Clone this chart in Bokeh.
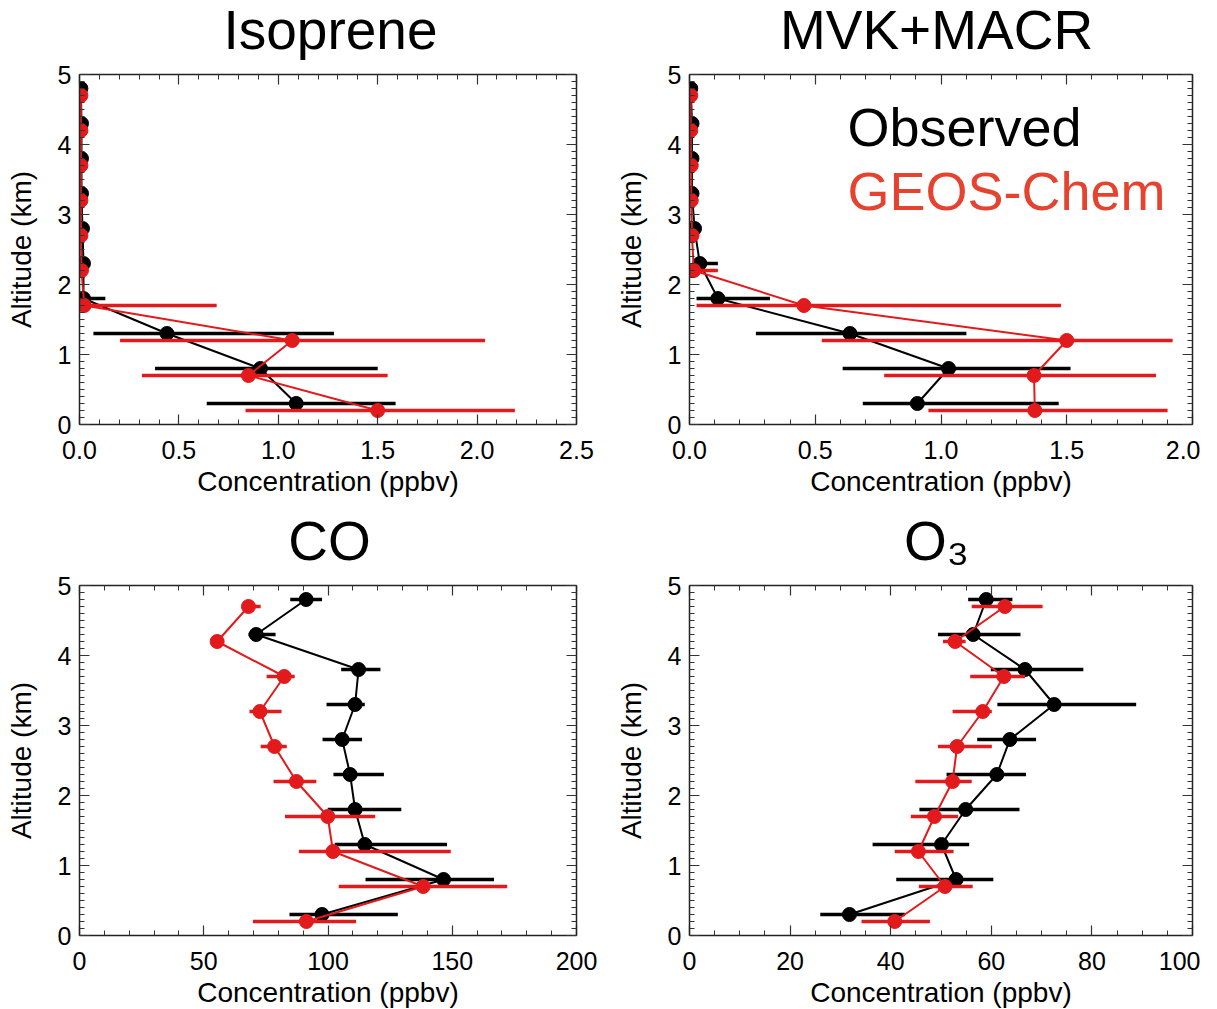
from bokeh.plotting import figure
from bokeh.models import (Range1d, LinearAxis, SingleIntervalTicker, PrintfTickFormatter,
                          CustomJSTickFormatter, Label)
from bokeh.core.properties import value
from bokeh.layouts import column, row
from bokeh.embed import file_html
from bokeh.resources import INLINE

# ---------------- data ----------------
alt_obs = [0.3, 0.8, 1.3, 1.8, 2.3, 2.8, 3.3, 3.8, 4.3, 4.8]
alt_mod = [0.2, 0.7, 1.2, 1.7, 2.2, 2.7, 3.2, 3.7, 4.2, 4.7]

isop_obs = [1.09, 0.91, 0.44, 0.02, 0.02, 0.015, 0.01, 0.01, 0.01, 0.007]
isop_obs_lo = [0.64, 0.38, 0.07, -0.09, 0.02, 0.015, 0.01, 0.01, 0.01, 0.007]
isop_obs_hi = [1.59, 1.50, 1.28, 0.13, 0.02, 0.015, 0.01, 0.01, 0.01, 0.007]
isop_mod = [1.50, 0.85, 1.07, 0.024, 0.01, 0.007, 0.007, 0.007, 0.007, 0.007]
isop_mod_lo = [0.835, 0.314, 0.204, 0.003, 0.01, 0.007, 0.007, 0.007, 0.007, 0.007]
isop_mod_hi = [2.19, 1.55, 2.04, 0.69, 0.01, 0.007, 0.007, 0.007, 0.007, 0.007]

mvk_obs = [0.906, 1.030, 0.638, 0.113, 0.041, 0.02, 0.01, 0.01, 0.01, 0.005]
mvk_obs_lo = [0.689, 0.609, 0.264, 0.028, 0.023, 0.02, 0.01, 0.01, 0.01, 0.005]
mvk_obs_hi = [1.468, 1.515, 1.101, 0.320, 0.113, 0.02, 0.01, 0.01, 0.01, 0.005]
mvk_mod = [1.373, 1.370, 1.500, 0.455, 0.017, 0.01, 0.007, 0.007, 0.005, 0.005]
mvk_mod_lo = [0.950, 0.774, 0.526, 0.028, 0.01, 0.01, 0.007, 0.007, 0.005, 0.005]
mvk_mod_hi = [1.901, 1.855, 1.921, 1.477, 0.113, 0.01, 0.007, 0.007, 0.005, 0.005]

co_obs = [97.6, 146.5, 114.8, 110.9, 108.9, 105.7, 110.9, 112.3, 71.1, 91.2]
co_obs_lo = [84.5, 115.1, 102.7, 99.9, 102.2, 97.8, 99.4, 105.3, 68.0, 84.8]
co_obs_hi = [128.1, 166.8, 147.9, 129.5, 122.5, 113.7, 114.8, 121.1, 78.9, 97.6]
co_mod = [91.3, 138.3, 102.0, 99.9, 87.3, 78.5, 72.6, 82.4, 55.4, 68.0]
co_mod_lo = [69.8, 104.3, 88.3, 82.7, 78.1, 72.9, 68.4, 75.3, 54.0, 67.3]
co_mod_hi = [111.3, 172.1, 149.4, 119.0, 95.3, 83.4, 81.3, 86.6, 57.0, 72.9]

o3_obs = [31.8, 53.0, 50.1, 54.9, 61.1, 63.7, 72.5, 66.7, 56.4, 59.0]
o3_obs_lo = [26.0, 41.1, 36.4, 45.7, 51.1, 57.2, 61.2, 59.9, 49.4, 55.4]
o3_obs_hi = [42.8, 60.4, 55.6, 65.6, 66.9, 68.9, 88.8, 78.3, 65.8, 64.2]
o3_mod = [40.8, 50.8, 45.5, 48.7, 52.3, 53.2, 58.3, 62.5, 52.8, 62.7]
o3_mod_lo = [34.2, 45.6, 40.8, 44.0, 44.9, 49.4, 52.3, 55.8, 50.4, 56.1]
o3_mod_hi = [47.8, 56.3, 52.5, 53.4, 56.1, 60.1, 60.1, 66.7, 54.9, 70.2]

titles = ["Isoprene", "MVK+MACR", "CO", "O\u2083"]
x_ranges = [(0, 2.5), (0, 2.0), (0, 200), (0, 100)]
x_major = [0.5, 0.5, 50, 20]
x_minor = [5, 5, 5, 4]
x_fmt = ["%.1f", "%.1f", "%d", "%d"]
x_label = "Concentration (ppbv)"
y_label = "Altitude (km)"
legend_labels = ["Observed", "GEOS-Chem"]

FONT = "Liberation Sans"
BLACK = "#000000"
RED = "#e31a1c"
RED_TEXT = "#e5432f"

W_LEFT, W_RIGHT = 612, 588


def style_axis(ax, major, minor_n, fmt, show_labels):
    ax.ticker = SingleIntervalTicker(interval=major, num_minor_ticks=minor_n)
    ax.major_tick_in = 10
    ax.major_tick_out = 0
    ax.minor_tick_in = 5
    ax.minor_tick_out = 0
    ax.axis_line_width = 1.5
    ax.major_tick_line_width = 1.2
    ax.minor_tick_line_width = 1
    ax.axis_line_color = "#222222"
    ax.major_tick_line_color = "#333333"
    ax.minor_tick_line_color = "#333333"
    if show_labels:
        ax.formatter = PrintfTickFormatter(format=fmt)
        ax.major_label_text_font = FONT
        ax.major_label_text_font_size = "25px"
        ax.major_label_text_color = "black"
    else:
        ax.formatter = CustomJSTickFormatter(code="return ''")
        ax.major_label_text_font_size = "1px"
        ax.major_label_standoff = 0


def title_fig(text, w, h, cx, cy):
    t = figure(width=w, height=h, output_backend="svg", toolbar_location=None,
               x_range=Range1d(0, w), y_range=Range1d(0, h), min_border=0,
               x_axis_type=None, y_axis_type=None)
    t.grid.visible = False
    t.outline_line_color = None
    t.text(x=[cx], y=[h - cy], text=[text], text_align="center", text_baseline="middle",
           text_font=value(FONT), text_font_size="55px", text_color="black")
    return t


def make_panel(i, obs, obs_lo, obs_hi, mod, mod_lo, mod_hi, borders, fw, fh):
    bl, br, bt, bb = borders
    p = figure(frame_width=fw, frame_height=fh, output_backend="svg", toolbar_location=None,
               x_range=Range1d(*x_ranges[i]), y_range=Range1d(0, 5),
               min_border_left=bl, min_border_right=br, min_border_top=bt, min_border_bottom=bb,
               x_axis_label=x_label, y_axis_label=y_label)
    p.grid.visible = False
    p.outline_line_color = None
    p.background_fill_color = "white"
    p.border_fill_color = "white"

    style_axis(p.xaxis[0], x_major[i], x_minor[i], x_fmt[i], True)
    style_axis(p.yaxis[0], 1, 10, "%d", True)
    for ax in (p.xaxis[0], p.yaxis[0]):
        ax.axis_label_text_font = FONT
        ax.axis_label_text_font_size = "28px"
        ax.axis_label_text_font_style = "normal"
        ax.axis_label_text_color = "black"
    p.xaxis[0].major_label_standoff = 16
    p.xaxis[0].axis_label_standoff = 4
    p.yaxis[0].major_label_standoff = 8
    p.yaxis[0].axis_label_standoff = 18

    top = LinearAxis()
    style_axis(top, x_major[i], x_minor[i], x_fmt[i], False)
    p.add_layout(top, "above")
    right = LinearAxis()
    style_axis(right, 1, 10, "%d", False)
    p.add_layout(right, "right")

    # observed (black)
    p.segment(x0=obs_lo, y0=alt_obs, x1=obs_hi, y1=alt_obs, line_color=BLACK, line_width=3.5)
    p.line(obs, alt_obs, line_color=BLACK, line_width=2)
    p.scatter(obs, alt_obs, marker="circle", size=14, fill_color=BLACK, line_color=BLACK)
    # model (red)
    p.segment(x0=mod_lo, y0=alt_mod, x1=mod_hi, y1=alt_mod, line_color=RED, line_width=3.5)
    p.line(mod, alt_mod, line_color=RED, line_width=2)
    p.scatter(mod, alt_mod, marker="circle", size=14, fill_color=RED, line_color=RED)
    return p


t1 = title_fig(titles[0], W_LEFT, 60, 330, 29)
t2 = title_fig(titles[1], W_RIGHT, 60, 324, 29)
t3 = title_fig(titles[2], W_LEFT, 72, 329, 41)
t4 = title_fig(titles[3], W_RIGHT, 72, 324, 41)

p1 = make_panel(0, isop_obs, isop_obs_lo, isop_obs_hi, isop_mod, isop_mod_lo, isop_mod_hi,
                (79, 36, 14, 75), 497, 350)
p2 = make_panel(1, mvk_obs, mvk_obs_lo, mvk_obs_hi, mvk_mod, mvk_mod_lo, mvk_mod_hi,
                (77, 8, 14, 75), 503, 350)
p3 = make_panel(2, co_obs, co_obs_lo, co_obs_hi, co_mod, co_mod_lo, co_mod_hi,
                (79, 36, 14, 60), 497, 350)
p4 = make_panel(3, o3_obs, o3_obs_lo, o3_obs_hi, o3_mod, o3_mod_lo, o3_mod_hi,
                (77, 8, 14, 60), 503, 350)

p2.add_layout(Label(x=0.628, y=4.25, text=legend_labels[0], text_font=FONT, text_font_size="54px",
                    text_color="black", text_baseline="alphabetic", text_align="left"))
p2.add_layout(Label(x=0.628, y=3.33, text=legend_labels[1], text_font=FONT, text_font_size="54px",
                    text_color=RED_TEXT, text_baseline="alphabetic", text_align="left"))

layout = column(row(t1, t2), row(p1, p2), row(t3, t4), row(p3, p4))
open("out.html", "w").write(file_html(layout, INLINE))
